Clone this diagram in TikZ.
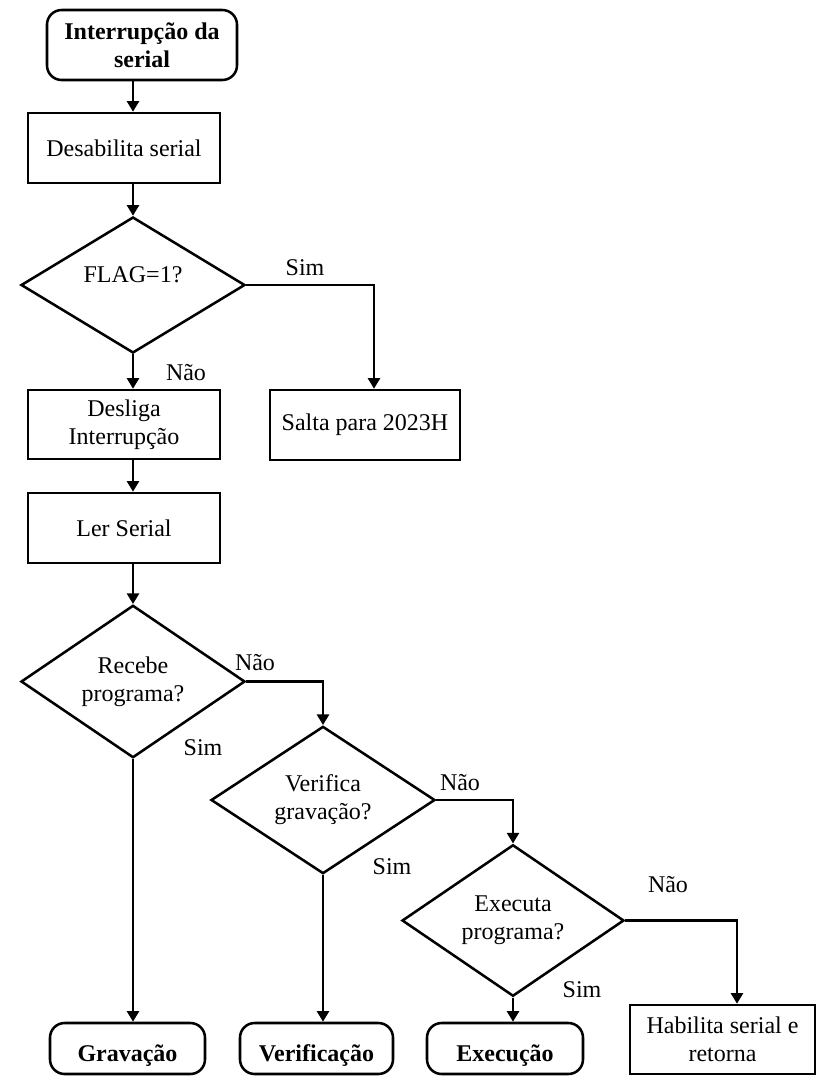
\documentclass[tikz,border=0pt]{standalone}
\usepackage{fontspec}
\setmainfont{Liberation Serif}
\usetikzlibrary{shapes.geometric,arrows.meta,calc}

\begin{document}
\begin{tikzpicture}[x=0.75pt,y=-0.75pt,
  every node/.style={font=\fontsize{18}{21}\selectfont},
  flow/.style={draw,line width=1.9pt,inner sep=0pt,align=center},
  procbox/.style={flow,rectangle},
  termbox/.style={flow,rectangle,rounded corners=11pt},
  decision/.style={flow,diamond},
  arr/.style={line width=1.9pt,-{Triangle[width=9pt,length=8pt]}},
  lbl/.style={inner sep=0pt}]

% page
\fill[white] (0,0) rectangle (817,1076);
\useasboundingbox (0,0) rectangle (817,1076);

% columns of the vertical connectors
\coordinate (c1) at (133,0);
\coordinate (cS) at (374,0);
\coordinate (c4) at (737,0);

% main column
\node[termbox,minimum width=142.5pt,minimum height=52.5pt] (start) at (142,45)
  {\textbf{Interrupção da}\\\textbf{serial}};
\node[procbox,minimum width=144pt,minimum height=52.5pt] (desab) at (124,148)
  {Desabilita serial};
\node[decision,minimum width=168pt,minimum height=102pt,
  label={[yshift=7.5pt]center:FLAG=1?}] (flag) at (133,285) {};
\node[procbox,minimum width=144pt,minimum height=51.75pt] (desliga) at (124,424.5)
  {Desliga\\Interrupção};
\node[procbox,minimum width=142.5pt,minimum height=52.5pt] (salta) at (365,425)
  {Salta para 2023H};
\node[procbox,minimum width=144pt,minimum height=52.5pt] (ler) at (124,528)
  {Ler Serial};

% decisions on the command received
\node[decision,minimum width=168pt,minimum height=102.75pt] (recebe) at (133,681.5)
  {Recebe\\programa?};
\node[decision,minimum width=168pt,minimum height=101.25pt] (verifica) at (323,800)
  {Verifica\\gravação?};
\node[decision,minimum width=166.5pt,minimum height=101.25pt] (executa) at (513,920.5)
  {Executa\\programa?};

% end points
\node[termbox,minimum width=116.25pt,minimum height=38.25pt,
  label={[yshift=-5pt]center:\textbf{Gravação}}] (grav) at (127.5,1048.5) {};
\node[termbox,minimum width=114.75pt,minimum height=38.25pt,
  label={[yshift=-5pt]center:\textbf{Verificação}}] (verif) at (316.5,1048.5) {};
\node[termbox,minimum width=117pt,minimum height=38.25pt,
  label={[yshift=-5pt]center:\textbf{Execução}}] (exec) at (505,1048.5) {};
\node[procbox,minimum width=138.75pt,minimum height=51.75pt] (habil) at (722.5,1039.5)
  {Habilita serial e\\retorna};

% connectors
\draw[arr] (start.south -| c1) -- (desab.north -| c1);
\draw[arr] (desab.south -| c1) -- (flag.north);
\draw[arr] (flag.east) -| (salta.north -| cS);
\draw[arr] (flag.south) -- (desliga.north -| c1);
\draw[arr] (desliga.south -| c1) -- (ler.north -| c1);
\draw[arr] (ler.south -| c1) -- (recebe.north);
\draw[arr] (recebe.east) -| (verifica.north);
\draw[arr] (recebe.south) -- (grav.north -| c1);
\draw[arr] (verifica.east) -| (executa.north);
\draw[arr] (verifica.south) -- (verif.north -| verifica.south);
\draw[arr] (executa.south) -- (exec.north -| executa.south);
\draw[arr] (executa.east) -| (habil.north -| c4);

% branch labels
\node[lbl] (simflag) at (305,268) {Sim};
\node[lbl] (naoflag) at (186,373) {Não};
\node[lbl] (naorec) at (255,663) {Não};
\node[lbl] (simrec) at (203,748) {Sim};
\node[lbl] (naover) at (460,783) {Não};
\node[lbl] (simver) at (392,867) {Sim};
\node[lbl] (naoexe) at (668,885) {Não};
\node[lbl] (simexe) at (582,990) {Sim};

\end{tikzpicture}
\end{document}
